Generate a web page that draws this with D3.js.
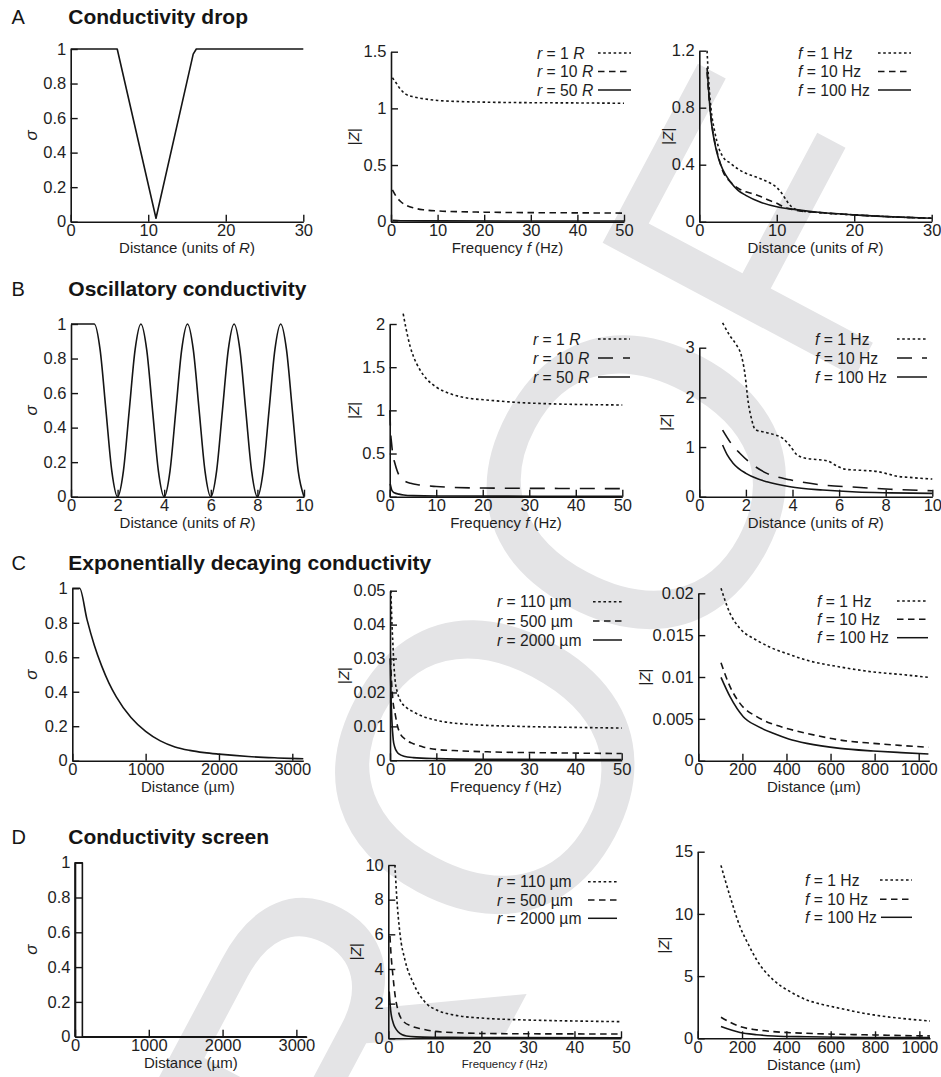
<!DOCTYPE html>
<html>
<head>
<meta charset="utf-8">
<script src="https://cdnjs.cloudflare.com/ajax/libs/d3/7.8.5/d3.min.js"></script>
<style>
  body { margin: 0; background: #fff; }
  svg { display: block; font-family: "Liberation Sans", Arial, Helvetica, sans-serif; }
</style>
</head>
<body>
<svg id="fig" width="941" height="1077"></svg>
<script>
// ---------------- row headings ----------------
const rowLetters = ["A", "B", "C", "D"];
const rowTitles = ["Conductivity drop", "Oscillatory conductivity",
                   "Exponentially decaying conductivity", "Conductivity screen"];

// ---------------- A: conductivity drop ----------------
const dropSigma = [[0,1],[6,1],[11,0.02],[15.8,0.97],[16.2,1],[30,1]];
const dropFreqR1 = [[0.3,1.27],[1,1.23],[2,1.17],[3,1.13],[5,1.1],[7,1.085],[10,1.07],[15,1.06],[20,1.055],[30,1.05],[40,1.048],[50,1.045]];
const dropFreqR10 = [[0.3,0.28],[1,0.23],[2,0.18],[3,0.15],[5,0.12],[7,0.105],[10,0.095],[15,0.088],[20,0.084],[30,0.08],[40,0.078],[50,0.076]];
const dropFreqR50 = [[0.3,0.012],[2,0.009],[10,0.007],[50,0.006]];
const dropDistF1 = [[1,1.2],[1.2,1.0],[1.5,0.8],[2,0.63],[2.5,0.52],[3,0.46],[4,0.41],[5,0.37],[6,0.34],[7,0.32],[8,0.3],[9,0.275],[10,0.24],[10.5,0.21],[11,0.17],[11.5,0.13],[12,0.1],[13,0.078],[15,0.066],[20,0.048],[25,0.034],[30,0.024]];
const dropDistF10 = [[1,1.05],[1.3,0.84],[1.6,0.69],[2,0.56],[2.5,0.45],[3,0.36],[4,0.28],[5,0.235],[6,0.21],[7,0.195],[8,0.175],[9,0.15],[10,0.13],[11,0.1],[12,0.085],[13,0.075],[15,0.066],[20,0.048],[25,0.034],[30,0.024]];
const dropDistF100 = [[1,1.08],[1.3,0.85],[1.6,0.68],[2,0.55],[2.5,0.44],[3,0.37],[4,0.28],[5,0.22],[6,0.185],[8,0.135],[10,0.105],[12,0.088],[15,0.068],[20,0.048],[25,0.034],[30,0.024]];

// ---------------- B: oscillatory conductivity ----------------
const oscSigma = [[0,1],[1,1],[1.25,0.85],[1.5,0.5],[1.75,0.15],[2,0],[2.25,0.15],[2.5,0.5],[2.75,0.85],[3,1],
  [3.25,0.85],[3.5,0.5],[3.75,0.15],[4,0],[4.25,0.15],[4.5,0.5],[4.75,0.85],[5,1],
  [5.25,0.85],[5.5,0.5],[5.75,0.15],[6,0],[6.25,0.15],[6.5,0.5],[6.75,0.85],[7,1],
  [7.25,0.85],[7.5,0.5],[7.75,0.15],[8,0],[8.25,0.15],[8.5,0.5],[8.75,0.85],[9,1],
  [9.25,0.85],[9.5,0.5],[9.75,0.15],[10,0]];
const oscFreqR1 = [[2.9,2.12],[3.5,1.95],[4.4,1.74],[5,1.64],[6.5,1.47],[8,1.36],[10,1.27],[13.7,1.18],[17,1.14],[20.8,1.12],[28,1.09],[35,1.075],[42,1.067],[50,1.062]];
const oscFreqR10 = [[0.05,1.0],[0.15,0.8],[0.4,0.62],[0.7,0.48],[1.1,0.39],[1.6,0.3],[2.2,0.23],[3,0.19],[4.5,0.155],[6.5,0.135],[10,0.118],[13.7,0.108],[20,0.1],[30,0.097],[40,0.095],[50,0.093]];
const oscFreqR50 = [[0.1,0.15],[0.5,0.07],[1,0.045],[2,0.03],[3,0.02],[5,0.012],[10,0.008],[50,0.005]];
const oscDistF1 = [[1,3.5],[1.3,3.25],[1.6,3.05],[1.8,2.85],[1.95,2.5],[2.1,1.9],[2.25,1.55],[2.4,1.35],[2.8,1.3],[3.2,1.25],[3.6,1.17],[3.9,1.02],[4.2,0.84],[4.6,0.77],[5.0,0.75],[5.5,0.72],[5.9,0.62],[6.3,0.55],[7.0,0.53],[7.6,0.51],[8.0,0.47],[8.5,0.41],[9.0,0.39],[9.5,0.37],[10,0.355]];
const oscDistF10 = [[1,1.34],[1.4,1.05],[1.75,0.87],[2.3,0.64],[2.9,0.47],[3.9,0.34],[5.3,0.235],[6.75,0.19],[8.2,0.15],[10,0.12]];
const oscDistF100 = [[1,1.04],[1.2,0.84],[1.46,0.67],[2,0.47],[2.5,0.36],[2.9,0.3],[3.9,0.2],[5.3,0.134],[6.75,0.094],[8.2,0.078],[10,0.067]];

// ---------------- C: exponentially decaying conductivity ----------------
const expSigma = [[0,1],[100,1],[200,0.82],[300,0.67],[400,0.55],[500,0.45],[600,0.37],[800,0.25],[1000,0.17],[1200,0.115],[1400,0.08],[1600,0.06],[1800,0.047],[2000,0.038],[2400,0.024],[2800,0.016],[3150,0.011]];
const expFreqR110 = [[0.2,0.05],[0.4,0.041],[0.6,0.035],[0.85,0.028],[1.1,0.0236],[1.6,0.02],[2.2,0.0177],[3.5,0.0156],[5,0.0143],[7,0.013],[10,0.0118],[17,0.0106],[28,0.01],[40,0.0097],[50,0.0095]];
const expFreqR500 = [[0.1,0.03],[0.3,0.024],[0.6,0.018],[1.1,0.0138],[1.6,0.0102],[2.2,0.0079],[3.5,0.006],[5,0.0049],[7,0.004],[10,0.0032],[15,0.0028],[21,0.0025],[35,0.0022],[50,0.002]];
const expFreqR2000 = [[0.05,0.03],[0.2,0.02],[0.4,0.012],[0.7,0.006],[1,0.004],[1.5,0.0025],[2,0.0018],[3,0.0012],[5,0.0008],[10,0.0005],[20,0.0003],[50,0.0002]];
const expDistF1 = [[103,0.0206],[144,0.0176],[189,0.0158],[265,0.0144],[330,0.0135],[401,0.0128],[492,0.012],[643,0.0112],[794,0.0106],[920,0.0103],[1044,0.00996]];
const expDistF10 = [[103,0.0117],[144,0.00885],[189,0.00685],[265,0.00526],[330,0.00445],[401,0.00386],[492,0.00327],[643,0.00247],[794,0.00207],[920,0.00182],[1044,0.0016]];
const expDistF100 = [[103,0.00996],[144,0.00765],[204,0.00526],[270,0.0041],[340,0.00327],[410,0.0026],[492,0.00207],[643,0.00147],[794,0.00116],[920,0.00097],[1044,0.0008]];

// ---------------- D: conductivity screen ----------------
const screenSigma = [[0,0],[0,1],[100,1],[100,0],[3140,0]];
const screenFreqR110 = [[1.43,10],[1.8,8.2],[2.5,6.06],[3.6,4.5],[5.4,3.17],[8.2,2.0],[10.4,1.63],[14,1.35],[21,1.15],[28,1.07],[35.5,1.02],[42,0.99],[50,0.96]];
const screenFreqR500 = [[0.35,5.9],[0.6,4.8],[1,3.6],[1.5,2.4],[2,1.7],[3,1.05],[5,0.7],[7,0.55],[10,0.4],[15,0.32],[20,0.28],[30,0.26],[50,0.25]];
const screenFreqR2000 = [[0.2,2.7],[0.5,1.63],[1.07,0.87],[1.5,0.6],[2.1,0.38],[3,0.2],[3.9,0.13],[6,0.08],[10.4,0.06],[20,0.045],[50,0.03]];
const screenDistF1 = [[105,13.9],[146,11.4],[191,8.97],[230,7.5],[266,6.3],[341,4.69],[417,3.75],[492,3.08],[567,2.7],[642,2.41],[718,2.12],[793,1.88],[920,1.6],[1048,1.39]];
const screenDistF10 = [[105,1.69],[191,0.94],[266,0.68],[341,0.54],[492,0.4],[642,0.32],[793,0.27],[920,0.22],[1048,0.19]];
const screenDistF100 = [[105,0.94],[191,0.46],[266,0.29],[341,0.19],[492,0.12],[642,0.08],[793,0.065],[1048,0.05]];

// ---------------- tick values ----------------
const ticksSigma = [0, 0.2, 0.4, 0.6, 0.8, 1];
const ticksDist30 = [0, 10, 20, 30];
const ticksDist10 = [0, 2, 4, 6, 8, 10];
const ticksFreq = [0, 10, 20, 30, 40, 50];
const ticksUm3000 = [0, 1000, 2000, 3000];
const ticksUm1000 = [0, 200, 400, 600, 800, 1000];
const ticksZ15 = [0, 0.5, 1, 1.5];
const ticksZ12 = [0, 0.4, 0.8, 1.2];
const ticksZ2 = [0, 0.5, 1, 1.5, 2];
const ticksZ3 = [0, 1, 2, 3];
const ticksZ005 = [0, 0.01, 0.02, 0.03, 0.04, 0.05];
const ticksZ002 = [0, 0.005, 0.01, 0.015, 0.02];
const ticksZ10 = [0, 2, 4, 6, 8, 10];
const ticksZ15b = [0, 5, 10, 15];

// ---------------- legend entries ----------------
const legendRadiiR = ["1", "10", "50"];
const legendFreqs = ["1", "10", "100"];
const legendRadiiUm = ["110", "500", "2000"];
const legendStyles = ["dot", "dash", "solid"];
const legendStylesLong = ["dot", "longdash", "solid"];

// ---------------- drawing ----------------
const svg = d3.select("#fig");
const INK = "#151515";
const dashes = { solid: null, dot: "2.6,2.6", dash: "6.5,4.5", longdash: "15,10" };

// light grey watermark lettering behind the plots
svg.append("text")
  .attr("transform", "translate(265,1486) rotate(-62)")
  .attr("font-size", 415)
  .attr("fill", "#e4e4e6")
  .text("PROOF");

// row headings
const titleY = [23.5, 295.5, 570, 843.5];
rowLetters.forEach((l, i) => {
  svg.append("text").attr("x", 11.5).attr("y", titleY[i])
    .attr("font-size", 20).attr("fill", INK).text(l);
  svg.append("text").attr("x", 68.3).attr("y", titleY[i])
    .attr("font-size", 21).attr("font-weight", "bold").attr("fill", INK).text(rowTitles[i]);
});

const panels = [
  // row A
  { left: 70.7, right: 303.3, top: 49, bottom: 221.7, xDom: [0, 30], yDom: [0, 1], xt: ticksDist30, yt: ticksSigma,
    xl: "distR", yl: "sigma", ylx: 31.7, series: [{ d: dropSigma, s: "solid", lin: true }] },
  { left: 391, right: 624, top: 51.7, bottom: 221.7, xDom: [0, 50], yDom: [0, 1.5], xt: ticksFreq, yt: ticksZ15,
    xl: "freq", yl: "z", ylx: 353,
    series: [{ d: dropFreqR1, s: "dot" }, { d: dropFreqR10, s: "dash" }, { d: dropFreqR50, s: "solid" }],
    legend: { kind: "R", labels: legendRadiiR, styles: legendStyles, tx: 537, s0: 598, s1: 631, ys: [53, 71.5, 90] } },
  { left: 699.3, right: 931.7, top: 50.7, bottom: 221.7, xDom: [0, 30], yDom: [0, 1.2], xt: ticksDist30, yt: ticksZ12,
    xl: "distR", yl: "z", ylx: 666.7,
    series: [{ d: dropDistF1, s: "dot" }, { d: dropDistF10, s: "dash" }, { d: dropDistF100, s: "solid" }],
    legend: { kind: "Hz", labels: legendFreqs, styles: legendStyles, tx: 798, s0: 878, s1: 911, ys: [53, 71.5, 90] } },
  // row B
  { left: 71, right: 304, top: 324, bottom: 496.7, xDom: [0, 10], yDom: [0, 1], xt: ticksDist10, yt: ticksSigma,
    xl: "distR", yl: "sigma", ylx: 31.7, series: [{ d: oscSigma, s: "solid" }] },
  { left: 389.7, right: 622.3, top: 324, bottom: 496.7, xDom: [0, 50], yDom: [0, 2], xt: ticksFreq, yt: ticksZ2,
    xl: "freq", yl: "z", ylx: 353,
    series: [{ d: oscFreqR1, s: "dot" }, { d: oscFreqR10, s: "longdash" }, { d: oscFreqR50, s: "solid" }],
    legend: { kind: "R", labels: legendRadiiR, styles: legendStylesLong, tx: 533, s0: 598, s1: 630, ys: [339, 358, 377] } },
  { left: 699.3, right: 932.3, top: 347.7, bottom: 496.7, xDom: [0, 10], yDom: [0, 3], xt: ticksDist10, yt: ticksZ3,
    xl: "distR", yl: "z", ylx: 665,
    series: [{ d: oscDistF1, s: "dot" }, { d: oscDistF10, s: "longdash" }, { d: oscDistF100, s: "solid" }],
    legend: { kind: "Hz", labels: legendFreqs, styles: legendStylesLong, tx: 815, s0: 897, s1: 927, ys: [339, 358, 377] } },
  // row C
  { left: 72.3, right: 303.3, top: 588.3, bottom: 760.7, xDom: [0, 3150], yDom: [0, 1], xt: ticksUm3000, yt: ticksSigma,
    xl: "distUm", yl: "sigma", ylx: 31.7, series: [{ d: expSigma, s: "solid" }] },
  { left: 390, right: 621.7, top: 590.7, bottom: 760.3, xDom: [0, 50], yDom: [0, 0.05], xt: ticksFreq, yt: ticksZ005,
    xl: "freq", yl: "z", ylx: 343,
    series: [{ d: expFreqR110, s: "dot" }, { d: expFreqR500, s: "dash" }, { d: expFreqR2000, s: "solid" }],
    legend: { kind: "um", labels: legendRadiiUm, styles: legendStyles, tx: 497, s0: 593, s1: 622, ys: [601.7, 621, 640] } },
  { left: 698.3, right: 929.3, top: 593.3, bottom: 760.7, xDom: [0, 1048], yDom: [0, 0.02], xt: ticksUm1000, yt: ticksZ002,
    xl: "distUm", yl: "z", ylx: 644,
    series: [{ d: expDistF1, s: "dot" }, { d: expDistF10, s: "dash" }, { d: expDistF100, s: "solid" }],
    legend: { kind: "Hz", labels: legendFreqs, styles: legendStyles, tx: 817, s0: 897, s1: 928, ys: [601, 619.3, 637.7] } },
  // row D
  { left: 75, right: 306.7, top: 862.7, bottom: 1036.7, xDom: [0, 3140], yDom: [0, 1], xt: ticksUm3000, yt: ticksSigma,
    xl: "distUm", yl: "sigma", ylx: 31.7, series: [{ d: screenSigma, s: "solid", lin: true }] },
  { left: 388.3, right: 621, top: 865, bottom: 1038.3, xDom: [0, 50], yDom: [0, 10], xt: ticksFreq, yt: ticksZ10,
    xl: "freqSmall", yl: "z", ylx: 355,
    series: [{ d: screenFreqR110, s: "dot" }, { d: screenFreqR500, s: "dash" }, { d: screenFreqR2000, s: "solid" }],
    legend: { kind: "um", labels: legendRadiiUm, styles: legendStyles, tx: 497, s0: 588, s1: 617, ys: [881.7, 900, 918.3] } },
  { left: 697.7, right: 930, top: 851.7, bottom: 1038.3, xDom: [0, 1048], yDom: [0, 15], xt: ticksUm1000, yt: ticksZ15b,
    xl: "distUm", yl: "z", ylx: 663,
    series: [{ d: screenDistF1, s: "dot" }, { d: screenDistF10, s: "dash" }, { d: screenDistF100, s: "solid" }],
    legend: { kind: "Hz", labels: legendFreqs, styles: legendStyles, tx: 805, s0: 880, s1: 912, ys: [880, 899.3, 917.3] } }
];

function styleAxis(g) {
  g.attr("font-family", null).attr("font-size", 16.5);
  g.selectAll("path.domain").attr("stroke", INK).attr("stroke-width", 1.6);
  g.selectAll(".tick line").attr("stroke", INK).attr("stroke-width", 1.4);
  g.selectAll(".tick text").attr("fill", "#1e1e1e");
}

function addXLabel(p) {
  const cx = (p.left + p.right) / 2;
  const small = p.xl === "freqSmall";
  const t = svg.append("text").attr("x", cx).attr("y", p.bottom + (small ? 29.5 : 31.5))
    .attr("text-anchor", "middle").attr("font-size", small ? 11.5 : 15).attr("fill", "#1e1e1e");
  if (p.xl === "distR") {
    t.append("tspan").text("Distance (units of ");
    t.append("tspan").attr("font-style", "italic").text("R");
    t.append("tspan").text(")");
  } else if (p.xl === "distUm") {
    t.text("Distance (\u00b5m)");
  } else {
    t.append("tspan").text("Frequency ");
    t.append("tspan").attr("font-style", "italic").text("f");
    t.append("tspan").text(" (Hz)");
  }
}

function addYLabel(p) {
  const cy = (p.top + p.bottom) / 2;
  const t = svg.append("text").attr("transform", `translate(${p.ylx},${cy}) rotate(-90)`)
    .attr("text-anchor", "middle").attr("dominant-baseline", "central").attr("fill", "#1e1e1e");
  if (p.yl === "sigma") {
    t.attr("font-size", 17).attr("font-style", "italic").text("\u03c3");
  } else {
    t.attr("font-size", 15);
    t.append("tspan").text("|");
    t.append("tspan").attr("font-style", "italic").text("Z");
    t.append("tspan").text("|");
  }
}

function addLegend(p) {
  const lg = p.legend;
  lg.labels.forEach((v, i) => {
    const yc = lg.ys[i];
    const t = svg.append("text").attr("x", lg.tx).attr("y", yc + 5.6)
      .attr("font-size", 15.7).attr("fill", "#1e1e1e");
    if (lg.kind === "R") {
      t.append("tspan").attr("font-style", "italic").text("r");
      t.append("tspan").text(" = " + v + " ");
      t.append("tspan").attr("font-style", "italic").text("R");
    } else if (lg.kind === "Hz") {
      t.append("tspan").attr("font-style", "italic").text("f");
      t.append("tspan").text(" = " + v + " Hz");
    } else {
      t.append("tspan").attr("font-style", "italic").text("r");
      t.append("tspan").text(" = " + v + " \u00b5m");
    }
    const tEnd = lg.tx + t.node().getComputedTextLength();
    const x1 = Math.max(lg.s0, tEnd + 4);
    svg.append("line").attr("x1", x1).attr("x2", lg.s1).attr("y1", yc).attr("y2", yc)
      .attr("stroke", INK).attr("stroke-width", 1.5)
      .attr("stroke-dasharray", dashes[lg.styles[i]]);
  });
}

panels.forEach(p => {
  const x = d3.scaleLinear().domain(p.xDom).range([p.left, p.right]);
  const y = d3.scaleLinear().domain(p.yDom).range([p.bottom, p.top]);

  // curves
  p.series.forEach(s => {
    const line = d3.line().x(d => x(d[0])).y(d => y(d[1]))
      .curve(s.lin ? d3.curveLinear : d3.curveMonotoneX);
    svg.append("path").datum(s.d).attr("d", line)
      .attr("fill", "none").attr("stroke", INK).attr("stroke-width", 1.6)
      .attr("stroke-linejoin", "round")
      .attr("stroke-dasharray", dashes[s.s]);
  });

  // axes with inward ticks
  const gx = svg.append("g").attr("transform", `translate(0,${p.bottom})`)
    .call(d3.axisBottom(x).tickValues(p.xt).tickFormat(d => String(d))
      .tickSizeInner(-7).tickSizeOuter(0).tickPadding(3));
  styleAxis(gx);
  const gy = svg.append("g").attr("transform", `translate(${p.left},0)`)
    .call(d3.axisLeft(y).tickValues(p.yt).tickFormat(d => String(d))
      .tickSizeInner(-7).tickSizeOuter(0).tickPadding(4.5));
  styleAxis(gy);

  addXLabel(p);
  addYLabel(p);
  if (p.legend) addLegend(p);
});
</script>
</body>
</html>
